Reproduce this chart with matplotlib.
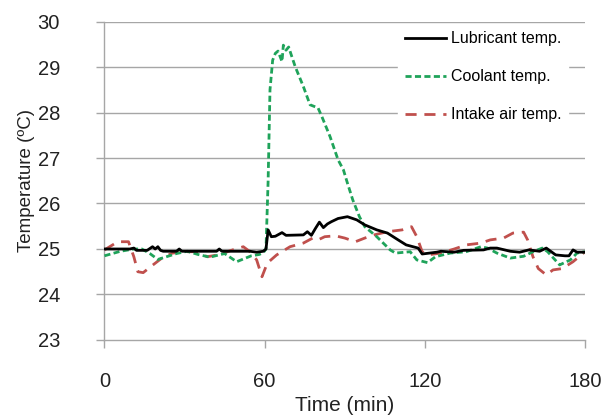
import matplotlib
matplotlib.use("Agg")
import matplotlib.pyplot as plt
import numpy as np

plt.rcParams["font.family"] = ["Liberation Sans", "DejaVu Sans"]

# lubricant temperature (black, solid)
t_lub = [0, 9.5, 11, 12, 16, 18, 19, 20, 21, 22, 27, 28, 29, 42, 43, 44, 54.5, 57, 59.5,
         60.5, 61.3, 62.5, 64, 66.5, 68, 74.5, 76, 77.5, 79, 80.5, 82, 83.5, 85, 87.5, 91,
         94.5, 97.5, 102, 106, 110, 113, 117.5, 119, 124.5, 126, 131, 134.5, 142, 144.5,
         147, 152, 155.5, 159, 163, 165.5, 169, 172.5, 174, 175.5, 177, 180]
v_lub = [25.0, 25.0, 25.02, 24.97, 24.97, 25.05, 25.0, 25.05, 24.97, 24.95, 24.95, 25.0, 24.95,
         24.95, 25.0, 24.95, 24.95, 24.93, 24.95,
         25.0, 25.42, 25.27, 25.28, 25.36, 25.3, 25.31, 25.38, 25.3, 25.45, 25.59, 25.47, 25.55,
         25.6, 25.67, 25.71,
         25.64, 25.53, 25.42, 25.35, 25.2, 25.09, 25.02, 24.89, 24.93, 24.95, 24.93, 24.97, 24.98,
         25.02, 25.02, 24.95, 24.93, 24.98, 24.95, 25.02, 24.87, 24.85, 24.85, 24.98, 24.93, 24.93]

# coolant temperature (green, short dashes)
t_cool = [0, 6, 11, 14, 17, 20, 27, 31, 35, 39.5, 45, 49.5, 55, 58, 59.5, 60.5, 61.3, 62, 63,
          64, 65, 66.5, 67, 68, 69, 70, 71.5, 74.5, 77, 80, 81.5, 84.5, 87.5, 89.5, 91, 93,
          95.5, 97.5, 102, 107, 109, 114.5, 117, 121, 124, 129.5, 135.5, 141, 143.5, 147, 152,
          157, 160.5, 164, 166, 170.5, 174.5, 177, 180]
v_cool = [24.85, 24.95, 25.0, 25.0, 24.9, 24.77, 24.9, 24.95, 24.88, 24.82, 24.9, 24.72, 24.85,
          24.88, 24.92, 25.0, 26.5, 28.5, 29.15,
          29.3, 29.35, 29.12, 29.48, 29.37, 29.44, 29.26, 29.0, 28.57, 28.17, 28.1, 27.9, 27.47,
          26.96, 26.74, 26.45, 26.08,
          25.71, 25.49, 25.27, 24.98, 24.91, 24.94, 24.76, 24.7, 24.83, 24.91, 24.94, 25.05,
          25.02, 24.91, 24.8, 24.84, 24.94, 25.02, 24.94, 24.65, 24.76, 24.91, 24.94]

# intake air temperature (red, long dashes)
t_air = [0, 5, 9, 11, 12.5, 14.5, 17.5, 21.5, 25.5, 31, 34.5, 38.5, 42.5, 48, 52, 54.5, 57,
         59, 61, 64.5, 69.5, 74.5, 78, 80, 82.5, 86.5, 90, 94, 97.5, 101, 106, 111.5, 115,
         117, 119, 121, 126, 131, 135.5, 141, 144.5, 149.5, 153, 157, 158.5, 160.5, 162.5,
         165.5, 168, 171.5, 175.5, 180]
v_air = [24.98, 25.16, 25.16, 24.83, 24.5, 24.48, 24.62, 24.8, 24.91, 24.94, 24.94, 24.83,
         24.87, 24.98, 25.05, 24.94, 24.76, 24.39, 24.69, 24.87, 25.05, 25.13, 25.24, 25.2,
         25.27, 25.29, 25.24, 25.16, 25.24, 25.31, 25.38, 25.42, 25.49, 25.27, 24.94, 24.87,
         24.91, 25.0, 25.09, 25.13, 25.2, 25.24, 25.35, 25.37, 25.2, 24.83, 24.57, 24.43,
         24.54, 24.57, 24.72, 24.94]

x_ticks = [0, 60, 120, 180]
y_ticks = [23, 24, 25, 26, 27, 28, 29, 30]

fig = plt.figure(figsize=(6.16, 4.17), dpi=100)
ax = fig.add_axes([0.1696, 0.1847, 0.7801, 0.7637])

grid_c = "#a6a6a6"
for y in y_ticks[1:]:
    ax.axhline(y, color=grid_c, lw=1.0, zorder=1)

ax.plot(t_lub, v_lub, color="black", lw=2.0, label="Lubricant temp.", zorder=4)
ax.plot(t_cool, v_cool, color="#1fa35a", lw=2.0, dashes=(2.2, 1.2), label="Coolant temp.", zorder=3)
ax.plot(t_air, v_air, color="#c0504d", lw=2.0, dashes=(4, 2.8), label="Intake air temp.", zorder=2)

ax.set_xlim(0, 180)
ax.set_ylim(23, 30)
ax.set_xticks(x_ticks)
ax.set_yticks(y_ticks)
ax.tick_params(axis="both", colors=grid_c, labelcolor="#222222", labelsize=14.5,
               length=6, width=1.0)
ax.tick_params(axis="y", pad=26)
ax.tick_params(axis="x", pad=17)
for s in ["top", "right"]:
    ax.spines[s].set_visible(False)
for s in ["left", "bottom"]:
    ax.spines[s].set_color(grid_c)
    ax.spines[s].set_linewidth(1.0)

ax.set_xlabel("Time (min)", fontsize=15, color="#222222", labelpad=4)
ax.set_ylabel("Temperature (ºC)", fontsize=13.5, color="#222222", labelpad=2)

leg = ax.legend(loc="upper right", bbox_to_anchor=(0.975, 1.005), frameon=True, fontsize=11.5,
                handlelength=2.6, handletextpad=0.3, labelspacing=1.45, borderaxespad=0.3)
leg.get_frame().set_edgecolor("white")
leg.get_frame().set_facecolor("white")
leg.get_frame().set_alpha(1.0)
leg.set_zorder(6)

fig.savefig("out.png", dpi=100)
